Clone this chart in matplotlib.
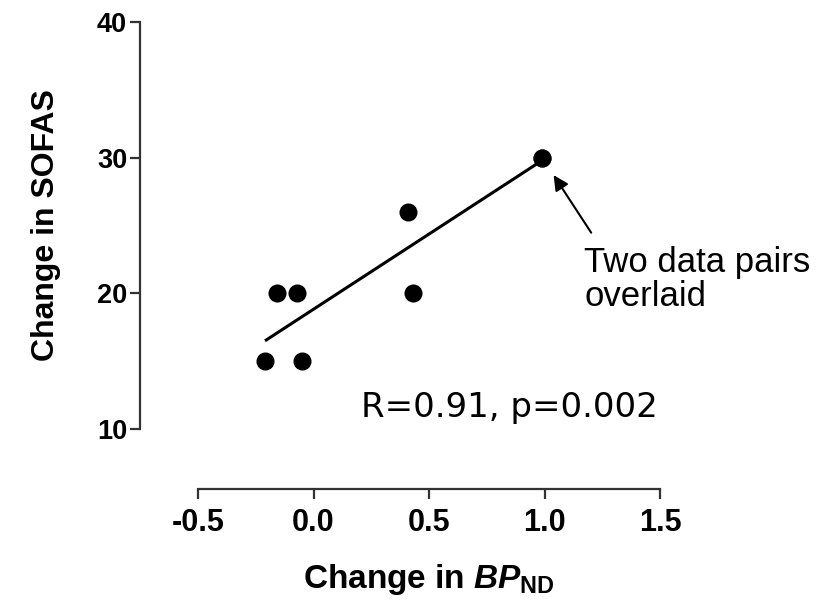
import numpy as np
import matplotlib
matplotlib.use('Agg')
from matplotlib import pyplot as plt

# data
bp_change = [-0.21, -0.05, -0.16, -0.07, 0.41, 0.43, 0.99, 0.99]
sofas_change = [15, 15, 20, 20, 26, 20, 30, 30]

# regression line end points
fit_x = [-0.21, 0.99]
fit_y = [16.5, 29.8]

x_ticks = [-0.5, 0.0, 0.5, 1.0, 1.5]
y_ticks = [10, 20, 30, 40]

plt.rcParams['font.family'] = ['Liberation Sans', 'DejaVu Sans']
plt.rcParams['mathtext.fontset'] = 'custom'
plt.rcParams['mathtext.rm'] = 'Liberation Sans:bold'
plt.rcParams['mathtext.it'] = 'Liberation Sans:italic:bold'
plt.rcParams['mathtext.bf'] = 'Liberation Sans:bold'

fig = plt.figure(figsize=(8.21, 6.01), dpi=100)
ax = fig.add_axes([198 / 821, 172 / 601, 462 / 821, 407 / 601])

axis_col = '#333333'

ax.plot(fit_x, fit_y, color='black', lw=2.2, solid_capstyle='butt', zorder=2)
ax.plot(bp_change, sofas_change, 'o', color='black', ms=13, mew=0, zorder=3)

ax.set_xlim(-0.5, 1.5)
ax.set_ylim(10, 40)
ax.set_xticks(x_ticks)
ax.set_yticks(y_ticks)
ax.set_xticklabels(['%.1f' % t for t in x_ticks])

for s in ['top', 'right']:
    ax.spines[s].set_visible(False)
ax.spines['left'].set_position(('outward', 42))
ax.spines['bottom'].set_position(('outward', 43))
for s in ['left', 'bottom']:
    ax.spines[s].set_color(axis_col)
    ax.spines[s].set_linewidth(1.6)

ax.tick_params(axis='both', direction='out', length=7, width=1.6, color=axis_col)
ax.tick_params(axis='x', pad=7, labelsize=22)
ax.tick_params(axis='y', pad=2, labelsize=19.5)
for lab in ax.get_xticklabels() + ax.get_yticklabels():
    lab.set_fontweight('bold')

ax.set_ylabel('Change in SOFAS', fontsize=23, fontweight='bold', labelpad=26)
ax.set_xlabel('Change in $\\it{BP}_{\\rm{ND}}$', fontsize=24, fontweight='bold', labelpad=17)

ax.text(0.205, 10.9, 'R=0.91, p=0.002', fontsize=24.5, family='DejaVu Sans',
        ha='left', va='baseline')

# arrow pointing at the two overlaid pairs
ax.annotate('', xy=(bp_change[-1], sofas_change[-1]), xytext=(49, -75),
            textcoords='offset pixels',
            arrowprops=dict(arrowstyle='-|>,head_length=0.9,head_width=0.45',
                            color='black', lw=1.5, shrinkA=0, shrinkB=15))
ax.text(1.173, 21.6, 'Two data pairs', fontsize=25, ha='left', va='baseline', clip_on=False)
ax.text(1.173, 19.05, 'overlaid', fontsize=25, ha='left', va='baseline', clip_on=False)

fig.savefig('out.png', dpi=100)
